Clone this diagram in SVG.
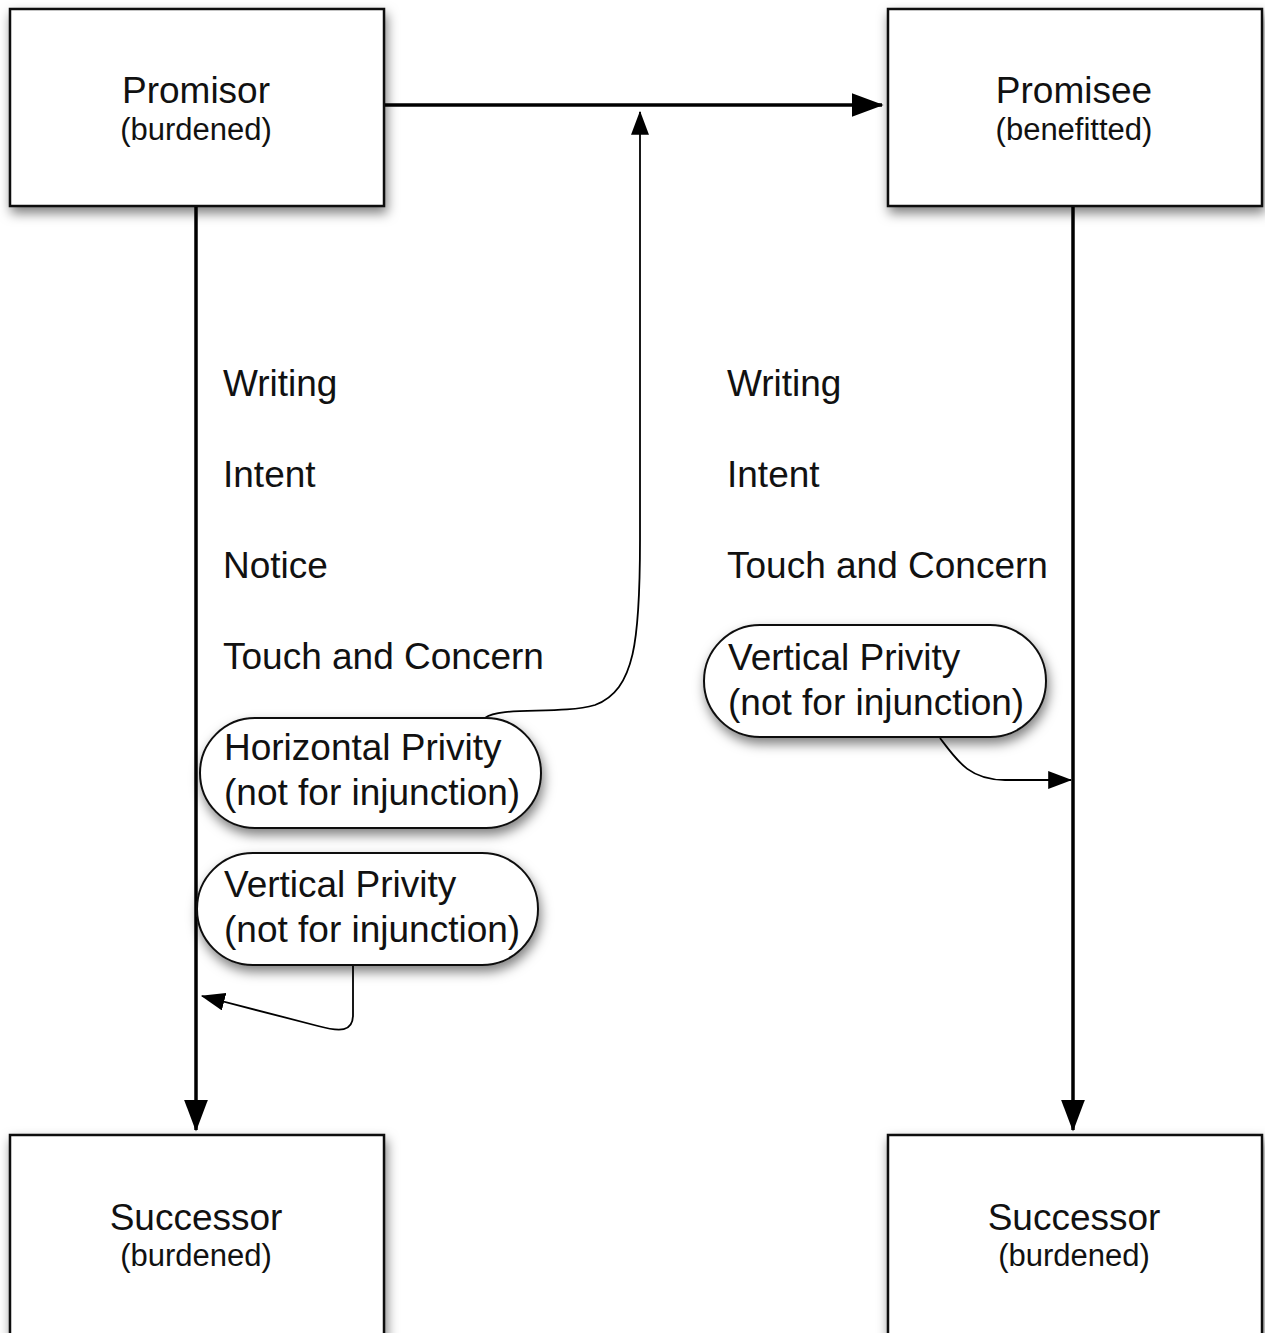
<svg xmlns="http://www.w3.org/2000/svg" width="1265" height="1333" viewBox="0 0 1265 1333">
<defs>
<filter id="sh" x="-10%" y="-10%" width="125%" height="135%">
<feDropShadow dx="2" dy="6" stdDeviation="6" flood-color="#000" flood-opacity="0.5"/>
</filter>
<marker id="big" viewBox="0 0 10 10" refX="9.5" refY="5" markerWidth="32" markerHeight="24" markerUnits="userSpaceOnUse" orient="auto" preserveAspectRatio="none">
<path d="M0,0 L10,5 L0,10 z" fill="#000"/>
</marker>
<marker id="small" viewBox="0 0 10 10" refX="9.5" refY="5" markerWidth="24" markerHeight="18" markerUnits="userSpaceOnUse" orient="auto" preserveAspectRatio="none">
<path d="M0,0 L10,5 L0,10 z" fill="#000"/>
</marker>
</defs>
<style>
.box{fill:#fff;stroke:#111;stroke-width:2.5;filter:url(#sh)}
.pill{fill:#fff;stroke:#111;stroke-width:2;filter:url(#sh)}
.t{font-family:"Liberation Sans",Arial,sans-serif;fill:#111}
.big{font-size:37px}
.sub{font-size:31px}
.main{fill:none;stroke:#000;stroke-width:3.5}
.thin{fill:none;stroke:#000;stroke-width:1.8}
</style>
<rect width="1265" height="1333" fill="#fff"/>
<g id="connectors">
<path class="main" d="M384,105 L882,105" marker-end="url(#big)"/>
<path class="main" d="M196,206 L196,1130" marker-end="url(#big)"/>
<path class="main" d="M1073,206 L1073,1130" marker-end="url(#big)"/>
<path class="thin" d="M485,718 C500,706 560,715 595,705 C635,690 640,640 640,540 L640,112" marker-end="url(#small)"/>
<path class="thin" d="M353,966 L353,1015 C353,1032 340,1032 318,1026 L202,996" marker-end="url(#small)"/>
<path class="thin" d="M940,738 C958,762 970,780 1005,780 L1071,780" marker-end="url(#small)"/>
</g>
<g id="promisor">
<rect class="box" x="10" y="9" width="374" height="197"/>
<text class="t big" x="196" y="103" text-anchor="middle">Promisor</text>
<text class="t sub" x="196" y="140" text-anchor="middle">(burdened)</text>
</g>
<g id="promisee">
<rect class="box" x="888" y="9" width="374" height="197"/>
<text class="t big" x="1074" y="103" text-anchor="middle">Promisee</text>
<text class="t sub" x="1074" y="140" text-anchor="middle">(benefitted)</text>
</g>
<g id="successor-left">
<rect class="box" x="10" y="1135" width="374" height="210"/>
<text class="t big" x="196" y="1230" text-anchor="middle">Successor</text>
<text class="t sub" x="196" y="1266" text-anchor="middle">(burdened)</text>
</g>
<g id="successor-right">
<rect class="box" x="888" y="1135" width="374" height="210"/>
<text class="t big" x="1074" y="1230" text-anchor="middle">Successor</text>
<text class="t sub" x="1074" y="1266" text-anchor="middle">(burdened)</text>
</g>
<g id="left-labels">
<text class="t big" x="223" y="396">Writing</text>
<text class="t big" x="223" y="487">Intent</text>
<text class="t big" x="223" y="578">Notice</text>
<text class="t big" x="223" y="669">Touch and Concern</text>
</g>
<g id="right-labels">
<text class="t big" x="727" y="396">Writing</text>
<text class="t big" x="727" y="487">Intent</text>
<text class="t big" x="727" y="578">Touch and Concern</text>
</g>
<g id="horizontal-privity">
<rect class="pill" x="200" y="718" width="341" height="110" rx="55" ry="55"/>
<text class="t big" x="224" y="760">Horizontal Privity</text>
<text class="t big" x="224" y="805">(not for injunction)</text>
</g>
<g id="vertical-privity-left">
<rect class="pill" x="197" y="853" width="341" height="112" rx="56" ry="56"/>
<text class="t big" x="224" y="897">Vertical Privity</text>
<text class="t big" x="224" y="942">(not for injunction)</text>
</g>
<g id="vertical-privity-right">
<rect class="pill" x="704" y="625" width="342" height="112" rx="56" ry="56"/>
<text class="t big" x="728" y="670">Vertical Privity</text>
<text class="t big" x="728" y="715">(not for injunction)</text>
</g>
</svg>
